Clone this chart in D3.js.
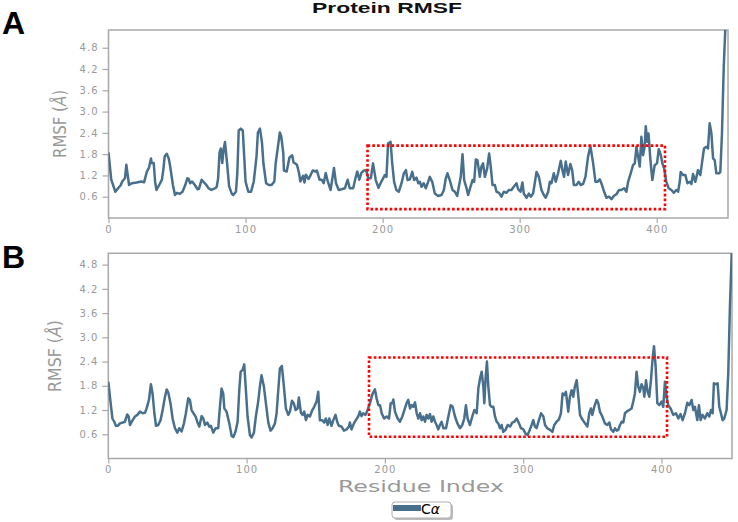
<!DOCTYPE html>
<html>
<head>
<meta charset="utf-8">
<script src="https://cdn.jsdelivr.net/npm/d3@7"></script>
<style>
  html, body { margin: 0; padding: 0; background: #fff; }
  svg { display: block; }
</style>
</head>
<body>
<svg id="chart" width="738" height="522"></svg>
<script>
// ---------- DATA ----------
const chartTitle = "Protein RMSF";
const panelLabels = ["A", "B"];
const xTickValues = [0, 100, 200, 300, 400];
const yTickValues = [0.6, 1.2, 1.8, 2.4, 3.0, 3.6, 4.2, 4.8];
const seriesName = "Cα";

// Panel A: residue index and RMSF (Å)
const residuesA = [0,2,5,7,9,10,12,13,15,17,20.5,24,26,28,29.5,31,31.5,33,34,35,37,39,40,41,42.5,44,45,47,48.5,50,52,54,56,57.5,58.5,59.5,61,62,63,65,66,68,69,71,73,75,78,79,80,81,82,83,84,85,86.5,88,90,91,93,94,95,96.5,98,99,100,102,104,106,108,109,110.5,112,113,115,117,119,121,122,124,125,126,127.5,128,130,132,134,135,137.5,139,140,142,143,144,146,147,149,151,152,154,155.5,157,158.5,160,162,163,164.5,166,168,170,172.5,174.5,176,178.5,180.5,181.5,183,184.5,186,188,189.5,191.4,193,195,197,199,201.6,202.8,204,205.8,207,208.4,210,211.8,213.8,215.5,217,218.2,219.9,221.6,223,224.7,226,227.2,228.4,230,231.5,233.2,234.4,236.2,238.1,240.5,243,244.7,246.1,247.3,249,251,252.7,254.4,255.6,257,258.3,259.5,261.2,262.4,264.1,265.6,266.8,268,269.2,270.9,272.1,273.3,274.6,276.3,277.7,278.9,280.2,281.9,283.1,285,286.7,288.4,290.4,292.1,294,295.7,297.7,298.9,300.6,302,303,305,306.7,308.1,309.8,311,312.3,314,315.9,317.6,319,320.8,322,323.2,324.9,326.3,328,330,331.2,332.4,333.6,335.3,337,338.3,339.5,341.4,343.1,344.6,346.3,348,349.9,351.6,353.6,355.3,356.7,358.4,360.1,361.6,363.3,365.2,367,368.6,370.6,372.5,374.2,376.2,377.9,379.1,381,382.7,384,385.2,386.4,387.6,388.8,390,391.2,392,393,394,395.4,396.8,398.5,400.2,401.5,403,404.1,405.4,407,408.7,410.7,412.4,414.4,415.6,416.8,417.5,419.2,420.9,422.4,424.1,425.3,426.5,428.2,430.1,431.8,433.3,434.5,436.2,437.4,438.6,439.9,441.1,442.3,443.5,445.5,446.4,447.6,448.9,450,451];
const rmsfA = [1.85,1.08,0.74,0.84,0.93,1.03,1.12,1.5,0.93,0.98,1.0,1.03,1.01,1.31,1.41,1.68,1.55,1.55,1.03,0.79,0.93,1.08,1.36,1.74,1.81,1.67,1.46,0.93,0.65,0.71,0.68,0.74,0.93,1.12,1.1,0.98,1.03,0.98,0.93,0.81,0.82,1.08,1.03,0.95,0.84,0.79,0.84,0.89,1.12,1.84,1.96,1.55,1.93,2.14,1.55,0.89,0.68,0.65,0.74,1.27,2.46,2.52,2.46,1.74,1.03,0.74,0.74,1.03,1.74,2.41,2.52,2.12,1.55,0.98,0.93,0.93,1.03,1.55,2.12,2.41,2.31,1.84,1.34,1.31,1.7,1.77,1.57,1.5,1.27,1.03,1.19,1.0,1.22,1.1,1.17,1.34,1.31,1.34,1.08,1.08,0.98,1.27,1.03,0.79,1.03,1.41,0.98,0.79,0.81,0.84,1.08,0.84,0.84,1.17,1.31,1.08,1.27,1.33,1.35,1.12,1.12,1.54,1.07,0.85,1.02,1.21,1.16,2.1,2.15,1.54,1.02,0.79,0.74,0.98,1.26,1.35,1.07,1.09,1.3,1.07,1.14,0.98,1.02,0.88,0.98,0.84,1.02,1.16,1.02,0.69,0.62,0.65,0.79,1.12,1.26,1.07,0.79,0.74,0.62,0.88,1.16,1.8,1.07,0.84,0.65,0.88,1.07,1.02,1.65,1.63,1.16,1.45,1.54,1.16,1.4,1.82,1.45,0.93,0.93,0.74,0.71,0.6,0.74,0.71,0.79,0.79,0.88,0.98,0.81,0.74,1.0,0.69,0.57,0.69,0.6,0.69,0.98,1.3,1.16,0.79,0.65,0.57,0.74,1.02,0.98,1.26,1.02,1.26,1.61,1.35,1.16,1.59,1.21,1.52,1.35,0.93,0.93,1.02,0.93,0.96,1.16,1.73,2.03,1.54,1.02,1.02,1.09,0.93,0.74,0.57,0.6,0.53,0.62,0.67,0.79,0.79,0.84,0.74,1.02,1.26,1.49,1.54,2.01,1.73,1.45,2.29,1.77,2.01,2.59,2.15,2.38,1.63,1.07,1.49,1.54,1.94,1.77,1.54,1.4,1.02,0.84,0.79,0.71,0.79,0.74,1.02,1.3,1.21,1.21,0.98,1.02,0.96,1.24,1.02,1.35,1.21,1.63,1.96,2.01,1.96,2.67,2.38,1.68,1.63,1.26,1.26,1.3,2.38,4.26,5.3,5.6];

// Panel B: residue index and RMSF (Å)
const residuesB = [0,2,3,4.3,5.5,7,8.4,10.4,12,13.7,14.7,15.7,17.6,19.3,21,22.9,24.8,26.5,27.7,29.4,30.8,32,33.3,34.5,36.1,37.8,39.3,41,42.2,43.4,45,46.5,48.2,49.9,51.3,53,54.7,56.1,57.8,59,60.2,61.4,63.1,64.3,65.8,67.5,68.7,69.9,71.6,73,74.2,75.9,77.6,79.5,80.7,81.9,83.1,83.9,85.5,87.5,89.2,90.4,92,93.5,94.7,95.7,97.1,98.3,99.5,100.7,102.4,103.6,105.3,106.7,108.4,109.6,110.8,112.5,114,115.7,117.3,118.8,120.5,121.7,122.9,124.1,125.5,127,128.4,130.1,131.3,132.8,134.2,135.4,136.9,137.8,139.3,140.5,141.7,142.9,144.1,145.8,147.5,148.9,150.6,151.8,153,154.7,156.1,157.3,158.6,159.8,161.4,162.7,164.3,165.5,166.7,168.7,170.4,172.3,174,174.7,175.9,177.6,179,180.7,181.9,183.1,184.3,186,187.5,189.2,191.2,192.8,194,195.3,196.5,197.7,199.4,201.3,203,204.2,205.4,206.1,207.3,209.2,210.9,212.6,214.5,215.7,216.9,218.2,219.4,220.6,221.8,223,224.2,225.4,226.6,227.8,229,230.2,231.4,232.6,233.8,235,236.2,237.4,238.6,239.8,241,242.3,244.2,245.9,247.6,249,250.7,252.4,254.3,256,257.4,258.6,259.8,261.5,263.2,264.7,266.4,267.6,268.8,270,271.2,271.9,272.9,273.8,274.8,276,277.2,278.4,279.6,280.8,282,283.2,284.4,285.6,287.3,288.8,290.5,292.1,293.6,295.3,297,298.4,300.1,301.8,303.2,304.9,306.1,307.3,308.5,309.7,311.4,312.9,314.6,315.8,317.4,319.4,321.1,322.5,324.2,325.9,327.3,328.5,329.7,330.9,331.9,332.6,333.8,335,336.2,337.4,338.7,339.9,341.1,342.7,344.7,346.4,347.8,349,350,351.4,353.1,354.3,355.5,357.2,359.1,360.8,362.3,363.5,365.2,366.4,367.6,368.8,370,371.2,372.4,373.6,374.8,376.7,378.4,379.6,380.8,382,383.2,384.4,385.6,386.9,387.6,388.8,390,391.2,392.4,393.6,394.6,395.8,397,398.4,400.1,401.3,402.5,403.7,404.9,406.6,408.5,410.5,412.2,413.8,415.3,417,418.7,420.1,421.8,423,424.2,425.9,427.1,428.3,429.7,431.4,433.1,434.6,435.8,437,437.9,439.4,440.6,441.8,443,444.2,445.4,447.1,448.3,449.5,451];
const rmsfB = [1.9,1.28,0.99,0.91,0.81,0.81,0.87,0.89,0.91,1.09,1.04,0.83,0.95,1.04,1.08,1.16,1.12,1.13,1.24,1.45,1.84,1.61,1.12,0.81,0.83,0.95,1.2,1.53,1.71,1.63,1.36,0.99,0.75,0.64,0.75,0.67,0.87,1.12,1.49,1.45,1.2,1.13,1.04,0.91,0.79,1.05,0.99,0.83,0.89,0.79,0.81,0.64,0.75,0.75,1.28,1.73,1.61,1.24,1.16,0.87,0.56,0.53,0.67,0.91,1.69,2.15,2.19,2.33,1.69,1.04,0.58,0.52,0.64,1.04,1.41,1.78,2.06,1.78,1.36,0.89,0.69,0.75,0.87,1.12,1.69,2.23,2.29,1.78,1.24,1.08,1.16,1.43,1.36,1.2,1.24,1.51,1.13,1.08,1.16,0.95,1.08,1.04,1.2,1.28,1.41,1.65,0.95,0.95,0.89,0.99,0.83,0.99,0.81,0.95,1.08,0.91,0.81,0.79,0.69,0.72,0.79,0.89,0.72,0.87,0.95,1.04,1.16,1.05,1.12,1.08,1.2,1.37,1.61,1.71,1.49,1.32,1.32,1.12,0.99,1.04,0.99,1.37,1.37,1.46,1.16,0.99,0.91,1.04,1.24,1.37,1.45,1.24,1.32,1.28,1.39,1.12,0.99,1.12,0.95,1.04,0.91,1.08,0.99,1.1,0.91,1.04,0.91,0.83,0.72,0.83,0.91,0.75,0.75,1.04,1.32,1.28,1.04,0.87,0.75,0.83,0.99,1.32,0.99,0.83,1.04,1.2,1.12,1.74,1.98,2.15,1.78,1.37,2.03,2.4,1.78,1.32,1.28,1.28,1.04,0.91,0.87,0.75,0.83,0.66,0.71,0.83,0.79,0.89,0.91,0.99,0.87,0.75,0.72,0.61,0.58,0.72,0.83,0.95,0.79,0.75,0.95,1.12,1.04,0.83,0.75,0.71,0.66,0.83,0.91,0.97,1.12,1.61,1.57,1.65,1.37,1.16,1.53,1.69,1.53,1.78,1.94,1.53,1.08,0.97,0.87,0.79,1.12,1.24,1.08,1.28,1.45,1.37,1.16,1.04,0.87,0.83,0.89,0.72,0.66,0.75,0.69,0.71,0.83,0.91,0.89,1.12,1.16,1.2,1.24,1.41,1.61,2.15,1.78,1.65,1.84,1.74,1.53,1.94,1.65,1.53,1.94,2.48,2.78,2.27,1.37,1.32,1.41,1.28,1.9,1.53,1.32,1.24,1.08,1.12,0.99,1.1,0.95,1.12,1.38,1.32,1.45,1.2,1.28,0.95,1.32,0.95,1.08,0.99,1.12,1.04,1.2,1.12,1.86,1.84,1.86,1.28,1.12,0.95,0.99,1.2,2.11,3.76,5.3];

// Highlighted region (residue range, RMSF range) for each panel
const highlightResA = [189, 406];
const highlightRmsfA = [0.25, 2.04];
const highlightResB = [188.5, 404];
const highlightRmsfB = [0.54, 2.5];

// ---------- DRAW ----------
const svg = d3.select("#chart");
const lineColor = "#48708c";
const frameColor = "#a8a8a8";
const textGrey = "#999999";

const panels = [
  { label: panelLabels[0], res: residuesA, vals: rmsfA, hlRes: highlightResA, hlRmsf: highlightRmsfA,
    left: 108.5, right: 728, top: 30, bottom: 218, xMax: 452, yMax: 5.3,
    labelY: 34, ylabX: 60, ylabY: 124, ylabLen: 68, xPad: 3 },
  { label: panelLabels[1], res: residuesB, vals: rmsfB, hlRes: highlightResB, hlRmsf: highlightRmsfB,
    left: 108.3, right: 732, top: 253.3, bottom: 458.5, xMax: 451, yMax: 5.08,
    labelY: 268, ylabX: 55, ylabY: 356, ylabLen: 72, xPad: 2 }
];

// Title
svg.append("text")
  .attr("x", 312).attr("y", 13)
  .attr("textLength", 150).attr("lengthAdjust", "spacingAndGlyphs")
  .style("font-family", "'Liberation Sans', Arial, sans-serif")
  .style("font-weight", "bold").style("font-size", "15px")
  .attr("fill", "#111")
  .text(chartTitle);

panels.forEach((p, i) => {
  const x = d3.scaleLinear().domain([0, p.xMax]).range([p.left, p.right]);
  const y = d3.scaleLinear().domain([0, p.yMax]).range([p.bottom, p.top]);
  const g = svg.append("g");

  // Panel letter
  svg.append("text")
    .attr("x", 2).attr("y", p.labelY)
    .style("font-family", "'Liberation Sans', Arial, sans-serif")
    .style("font-weight", "bold").style("font-size", "32px")
    .attr("fill", "#000")
    .text(p.label);

  // clip
  const clipId = "clip" + i;
  svg.append("clipPath").attr("id", clipId)
    .append("rect")
    .attr("x", p.left).attr("y", p.top)
    .attr("width", p.right - p.left).attr("height", p.bottom - p.top);

  // Axes
  const xAxis = d3.axisBottom(x).tickValues(xTickValues).tickSize(5).tickPadding(p.xPad).tickFormat(d3.format("d"));
  const yAxis = d3.axisLeft(y).tickValues(yTickValues).tickSize(6).tickPadding(4).tickFormat(d3.format(".1f"));

  const gx = g.append("g").attr("transform", `translate(0,${p.bottom})`).call(xAxis);
  const gy = g.append("g").attr("transform", `translate(${p.left},0)`).call(yAxis);
  [gx, gy].forEach(a => {
    a.select(".domain").remove();
    a.selectAll(".tick line").attr("stroke", frameColor).attr("stroke-width", 1.2);
    a.selectAll(".tick text")
      .attr("fill", textGrey)
      .style("font-family", "'DejaVu Sans', sans-serif")
      .style("font-size", "10px")
      .style("letter-spacing", "1px");
  });

  // Frame
  g.append("rect")
    .attr("x", p.left).attr("y", p.top)
    .attr("width", p.right - p.left).attr("height", p.bottom - p.top)
    .attr("fill", "none").attr("stroke", frameColor).attr("stroke-width", 1.5);

  // Line
  const data = p.res.map((r, k) => [r, p.vals[k]]);
  g.append("path")
    .datum(data)
    .attr("clip-path", `url(#${clipId})`)
    .attr("fill", "none")
    .attr("stroke", lineColor)
    .attr("stroke-width", 2.5)
    .attr("stroke-linejoin", "round")
    .attr("d", d3.line().x(d => x(d[0])).y(d => y(d[1])));

  // Highlight box
  g.append("rect")
    .attr("x", x(p.hlRes[0])).attr("y", y(p.hlRmsf[1]))
    .attr("width", x(p.hlRes[1]) - x(p.hlRes[0]))
    .attr("height", y(p.hlRmsf[0]) - y(p.hlRmsf[1]))
    .attr("fill", "none").attr("stroke", "#ff0000")
    .attr("stroke-width", 2.6).attr("stroke-dasharray", "2.6,2.2");

  // Y label
  const yl = svg.append("text")
    .attr("transform", `translate(${p.ylabX + 6},${p.ylabY}) rotate(-90)`)
    .attr("text-anchor", "middle")
    .attr("textLength", p.ylabLen).attr("lengthAdjust", "spacingAndGlyphs")
    .style("font-family", "'DejaVu Sans Condensed', 'DejaVu Sans', sans-serif")
    .style("font-stretch", "condensed")
    .style("font-size", "18px")
    .attr("fill", textGrey);
  yl.append("tspan").text("RMSF (");
  yl.append("tspan").style("font-style", "italic").text("Å");
  yl.append("tspan").text(")");
});

// X axis label
svg.append("text")
  .attr("x", 338).attr("y", 492)
  .attr("textLength", 166).attr("lengthAdjust", "spacingAndGlyphs")
  .style("font-family", "'DejaVu Sans', sans-serif")
  .style("font-size", "16px")
  .attr("fill", textGrey)
  .text("Residue Index");

// Legend
const lg = svg.append("g");
lg.append("rect").attr("x", 394).attr("y", 504).attr("width", 59).attr("height", 16)
  .attr("rx", 3).attr("fill", "#bdbdbd");
lg.append("rect").attr("x", 392).attr("y", 502).attr("width", 59).attr("height", 16)
  .attr("rx", 3).attr("fill", "#fff").attr("stroke", "#b0b0b0").attr("stroke-width", 1);
lg.append("line").attr("x1", 393).attr("x2", 421).attr("y1", 508).attr("y2", 508)
  .attr("stroke", lineColor).attr("stroke-width", 6);
const lt = lg.append("text").attr("x", 421).attr("y", 514)
  .style("font-family", "'DejaVu Sans', sans-serif").style("font-size", "14px")
  .attr("fill", "#000");
lt.append("tspan").text(seriesName.charAt(0));
lt.append("tspan").style("font-style", "italic").text(seriesName.slice(1));
</script>
</body>
</html>
